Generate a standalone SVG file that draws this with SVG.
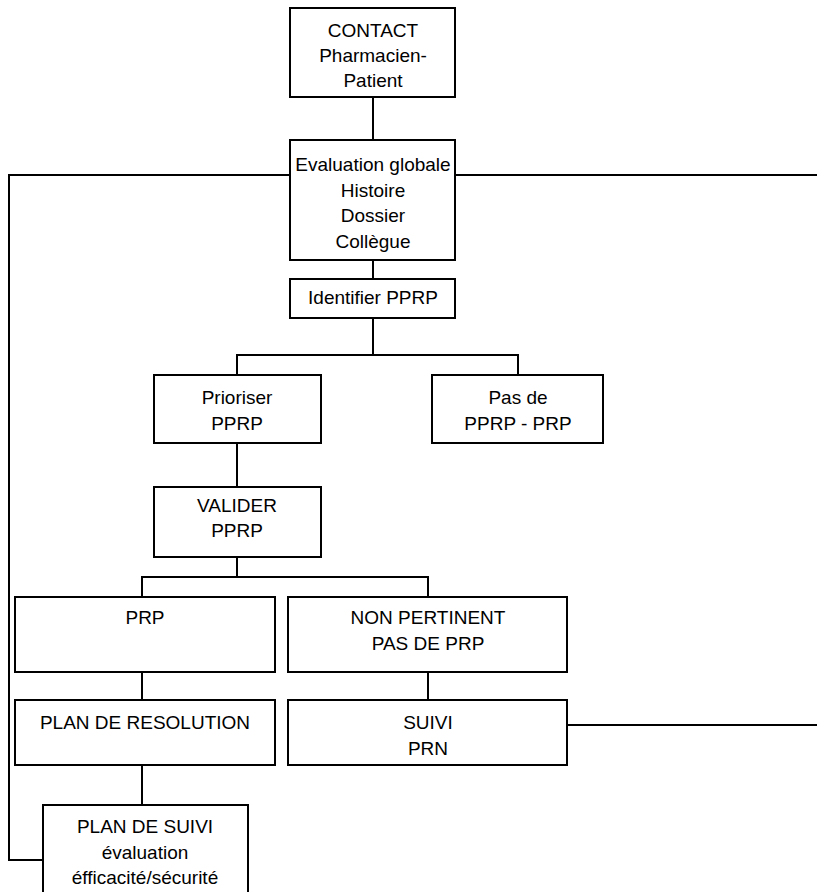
<svg xmlns="http://www.w3.org/2000/svg" width="817" height="892" viewBox="0 0 817 892">
<style>
.box{fill:#fff;stroke:#000;stroke-width:2}
.ln{fill:none;stroke:#000;stroke-width:2}
text{font-family:"Liberation Sans",Arial,Helvetica,sans-serif;font-size:19px;fill:#000;text-anchor:middle}
</style>
<rect width="817" height="892" fill="#fff"/>
<g id="connectors" class="ln">
<path d="M373,97 V140"/>
<path d="M373,260 V279"/>
<path d="M373,318 V355 M237,375 V355 H518 V375"/>
<path d="M237,443 V487"/>
<path d="M237,557 V577 M142,597 V577 H428 V597"/>
<path d="M142,672 V700"/>
<path d="M428,672 V700"/>
<path d="M142,765 V805"/>
<path d="M290,175 H9 V860 H43"/>
<path d="M455,175 H817"/>
<path d="M567,725 H817"/>
</g>
<g id="contact"><rect class="box" x="290" y="8" width="165" height="89"/>
<text x="373" y="37">CONTACT</text><text x="373" y="62">Pharmacien-</text><text x="373" y="87">Patient</text></g>
<g id="evaluation"><rect class="box" x="290" y="140" width="165" height="120"/>
<text x="373" y="171">Evaluation globale</text><text x="373" y="197">Histoire</text><text x="373" y="222">Dossier</text><text x="373" y="248">Collègue</text></g>
<g id="identifier"><rect class="box" x="290" y="279" width="165" height="39"/>
<text x="373" y="304">Identifier PPRP</text></g>
<g id="prioriser"><rect class="box" x="154" y="375" width="167" height="68"/>
<text x="237" y="404">Prioriser</text><text x="237" y="430">PPRP</text></g>
<g id="pasde"><rect class="box" x="432" y="375" width="171" height="68"/>
<text x="518" y="404">Pas de</text><text x="518" y="430">PPRP - PRP</text></g>
<g id="valider"><rect class="box" x="154" y="487" width="167" height="70"/>
<text x="237" y="512">VALIDER</text><text x="237" y="537">PPRP</text></g>
<g id="prp"><rect class="box" x="15" y="597" width="260" height="75"/>
<text x="145" y="624">PRP</text></g>
<g id="nonpertinent"><rect class="box" x="288" y="597" width="279" height="75"/>
<text x="428" y="624">NON PERTINENT</text><text x="428" y="650">PAS DE PRP</text></g>
<g id="planresolution"><rect class="box" x="15" y="700" width="260" height="65"/>
<text x="145" y="729">PLAN DE RESOLUTION</text></g>
<g id="suivi"><rect class="box" x="288" y="700" width="279" height="65"/>
<text x="428" y="729">SUIVI</text><text x="428" y="755">PRN</text></g>
<g id="plansuivi"><rect class="box" x="43" y="805" width="205" height="100"/>
<text x="145" y="833">PLAN DE SUIVI</text><text x="145" y="859">évaluation</text><text x="145" y="884">éfficacité/sécurité</text></g>
</svg>
